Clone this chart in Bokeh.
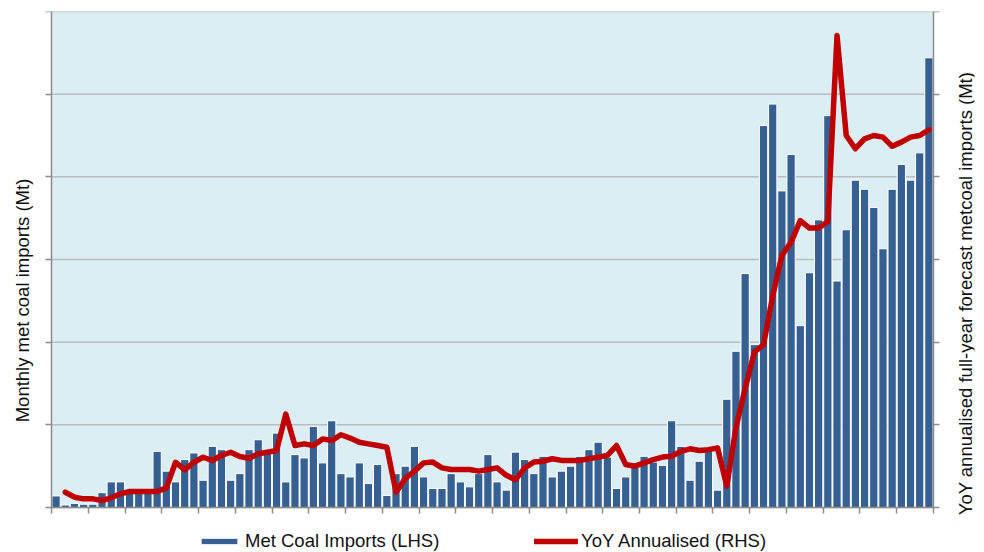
import math

from bokeh.plotting import figure
from bokeh.models import Range1d, LinearAxis, FixedTicker, Legend, LegendItem, Label
from bokeh.embed import file_html
from bokeh.resources import INLINE

nan = float("nan")

# monthly met coal imports (LHS), one value per month, 96 months
met_coal_imports = [
    0.14, 0.03, 0.05, 0.04, 0.04, 0.18, 0.31, 0.31, 0.18, 0.18, 0.18, 0.68,
    0.44, 0.31, 0.58, 0.66, 0.33, 0.74, 0.70, 0.33, 0.41, 0.70, 0.82, 0.70,
    0.90, 0.31, 0.64, 0.60, 0.98, 0.54, 1.05, 0.41, 0.37, 0.54, 0.29, 0.52,
    0.145, 0.41, 0.50, 0.74, 0.37, 0.23, 0.23, 0.41, 0.31, 0.25, 0.41, 0.64,
    0.31, 0.21, 0.67, 0.58, 0.41, 0.62, 0.37, 0.44, 0.50, 0.62, 0.70, 0.79,
    0.61, 0.23, 0.37, 0.53, 0.62, 0.55, 0.51, 1.05, 0.74, 0.33, 0.56, 0.69,
    0.21, 1.31, 1.89, 2.83, 1.97, 4.62, 4.88, 3.83, 4.27, 2.20, 2.84, 3.48,
    4.74, 2.74, 3.36, 3.96, 3.85, 3.63, 3.13, 3.85, 4.15, 3.96, 4.29, 5.44,
]

# YoY annualised forecast (RHS), starts in the second month
yoy_annualised = [
    nan, 0.185, 0.125, 0.105, 0.105, 0.085, 0.117, 0.166, 0.194, 0.194, 0.194, 0.194,
    0.238, 0.548, 0.456, 0.548, 0.608, 0.569, 0.629, 0.669, 0.617, 0.596, 0.650, 0.669,
    0.69, 1.13, 0.75, 0.77, 0.75, 0.83, 0.81, 0.88, 0.84, 0.79, 0.77, 0.75,
    0.73, 0.185, 0.35, 0.44, 0.54, 0.55, 0.48, 0.46, 0.46, 0.46, 0.44, 0.46,
    0.48, 0.39, 0.335, 0.48, 0.55, 0.56, 0.59, 0.57, 0.57, 0.57, 0.59, 0.61,
    0.63, 0.75, 0.52, 0.50, 0.54, 0.58, 0.61, 0.62, 0.68, 0.71, 0.69, 0.70,
    0.72, 0.26, 0.97, 1.44, 1.88, 1.97, 2.56, 3.05, 3.21, 3.47, 3.38, 3.38,
    3.46, 5.71, 4.50, 4.34, 4.46, 4.50, 4.48, 4.37, 4.42, 4.48, 4.50, 4.57,
]

months = list(range(1, 97))
month_ticks = list(range(0, 97, 4))
y_ticks = [0, 1, 2, 3, 4, 5, 6]

left_title = "Monthly met coal imports (Mt)"
right_title = "YoY annualised full-year forecast metcoal imports (Mt)"

FONT = "Liberation Sans"
FSIZE = "18.5px"
GRID = "#bdbdbd"
AXIS = "#8c8c8c"
PLOT_BG = "#dbeef3"

X_FIRST, X_LAST = 0, len(months)
Y_TOP = 6
Y_BOTTOM = -0.544          # room under the x axis for the legend
X_PAD = 4.4626             # room beside the y axes for the axis titles

x = [m - 0.5 for m in months]

p = figure(width=984, height=552,
           x_range=Range1d(X_FIRST - X_PAD, X_LAST + X_PAD),
           y_range=Range1d(Y_BOTTOM, Y_TOP),
           x_axis_location="above",
           output_backend="svg", toolbar_location=None,
           min_border_left=10, min_border_right=10, min_border_top=11, min_border_bottom=0,
           background_fill_color="white", outline_line_color=None)
p.extra_y_ranges = {"rhs": Range1d(Y_BOTTOM, Y_TOP)}
p.grid.visible = False

# light blue plot area and horizontal grid, only over the value range
p.quad(left=X_FIRST, right=X_LAST, bottom=0, top=Y_TOP,
       fill_color=PLOT_BG, line_color=None, level="image")
p.segment(x0=[X_FIRST] * len(y_ticks), x1=[X_LAST] * len(y_ticks), y0=y_ticks, y1=y_ticks,
          line_color=GRID, line_width=1.5, level="underlay")

def style_axis(ax, ticks):
    ax.ticker = FixedTicker(ticks=ticks)
    ax.axis_line_color = AXIS
    ax.axis_line_width = 1.5
    ax.major_tick_line_color = AXIS
    ax.major_tick_line_width = 1.5
    ax.major_tick_in = 0
    ax.major_tick_out = 6
    ax.minor_tick_line_color = None
    ax.major_label_overrides = {t: "" for t in ticks}
    ax.major_label_text_font_size = "1px"
    ax.major_label_standoff = 0

xax = p.xaxis[0]
style_axis(xax, month_ticks)
xax.fixed_location = 0
xax.bounds = (X_FIRST, X_LAST)
xax.major_tick_in = 6
xax.major_tick_out = 0

lax = p.yaxis[0]
style_axis(lax, y_ticks)
lax.fixed_location = X_FIRST
lax.bounds = (0, Y_TOP)

rax = LinearAxis(y_range_name="rhs", bounds=(0, Y_TOP), fixed_location=X_LAST)
style_axis(rax, y_ticks)
p.add_layout(rax, "right")

bars = p.vbar(x=x, top=met_coal_imports, width=0.9, fill_color="#376092",
              line_color="white", line_width=1)
yoy = p.line(x, yoy_annualised, y_range_name="rhs", line_color="#c00000",
             line_width=5.5, line_join="round", line_cap="round")

def make_legend(item, loc, gw):
    return Legend(items=[item], location=loc, orientation="horizontal",
                  glyph_width=gw, glyph_height=8, label_standoff=3,
                  padding=0, margin=0, border_line_color=None,
                  background_fill_alpha=0, label_text_font=FONT,
                  label_text_font_size=FSIZE, label_text_color="#111111")

p.add_layout(make_legend(LegendItem(label="Met Coal Imports (LHS)", renderers=[bars]), (186, 0), 46))
p.add_layout(make_legend(LegendItem(label="YoY Annualised (RHS)", renderers=[yoy]), (524, 0), 44))

def axis_title(text, sx, sy):
    return Label(x=sx, y=sy, x_units="screen", y_units="screen", angle=math.pi / 2,
                 text=text, text_font=FONT, text_font_size=FSIZE,
                 text_align="center", text_baseline="middle", text_color="#111111")

p.add_layout(axis_title(left_title, 12, 252))
p.add_layout(axis_title(right_title, 955, 259))

open("out.html", "w").write(file_html(p, INLINE))
